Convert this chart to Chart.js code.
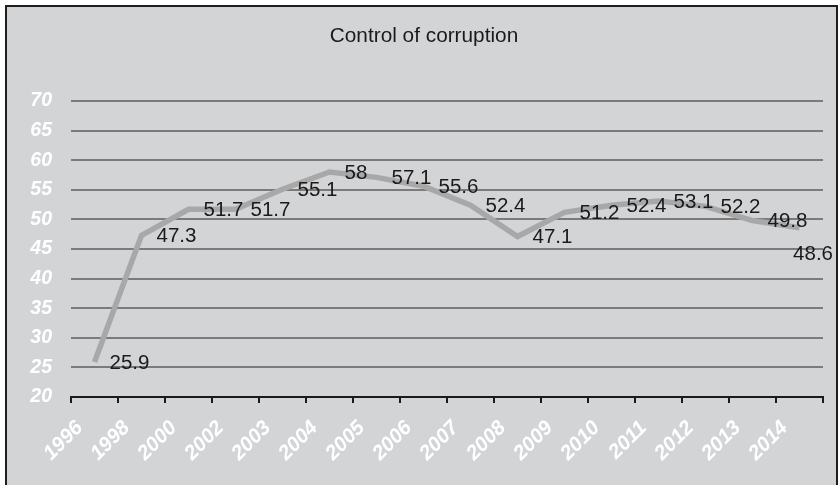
<!DOCTYPE html>
<html>
<head>
<meta charset="utf-8">
<script src="https://cdn.jsdelivr.net/npm/chart.js@4.4.1/dist/chart.umd.min.js"></script>
<style>
    html, body { margin: 0; padding: 0; background: #ffffff; }
    #wrap { width: 840px; height: 485px; position: relative; }
</style>
</head>
<body>
<div id="wrap"><canvas id="corruptionCanvas" width="840" height="485"></canvas></div>
<script>
const chartTitle = 'Control of corruption';
const years = ['1996', '1998', '2000', '2002', '2003', '2004', '2005', '2006',
    '2007', '2008', '2009', '2010', '2011', '2012', '2013', '2014'];
const scores = [25.9, 47.3, 51.7, 51.7, 55.1, 58, 57.1, 55.6,
    52.4, 47.1, 51.2, 52.4, 53.1, 52.2, 49.8, 48.6];
const yTicks = [20, 25, 30, 35, 40, 45, 50, 55, 60, 65, 70];

const FONT = "'Liberation Sans', Arial, sans-serif";

// grey panel, frame and title
const panelPlugin = {
    id: 'panel',
    beforeDraw(chart) {
        const ctx = chart.ctx;
        ctx.save();
        ctx.fillStyle = '#ffffff';
        ctx.fillRect(0, 0, chart.width, chart.height);
        ctx.fillStyle = '#d3d4d6';
        ctx.fillRect(6, 6, 831, 500);
        ctx.strokeStyle = '#1e1e1e';
        ctx.lineWidth = 2;
        ctx.strokeRect(6, 6, 831, 500);
        ctx.fillStyle = '#1a1a1a';
        ctx.font = '20.8px ' + FONT;
        ctx.textAlign = 'center';
        ctx.textBaseline = 'middle';
        ctx.fillText(chartTitle, 424, 36);
        ctx.restore();
    }
};

// value labels to the right of each point
const valueLabels = {
    id: 'valueLabels',
    afterDatasetsDraw(chart) {
        const ctx = chart.ctx;
        const meta = chart.getDatasetMeta(0);
        ctx.save();
        ctx.font = '20.5px ' + FONT;
        ctx.fillStyle = '#1a1a1a';
        ctx.textAlign = 'left';
        ctx.textBaseline = 'middle';
        meta.data.forEach((pt, i) => {
            const text = String(scores[i]);
            const w = ctx.measureText(text).width;
            let x = pt.x + 15;
            let y = pt.y + 1;
            if (x + w > 833) {
                x = 833 - w;
                y = pt.y + 27;
            }
            ctx.fillText(text, x, y);
        });
        ctx.restore();
    }
};

new Chart(document.getElementById('corruptionCanvas').getContext('2d'), {
    type: 'line',
    data: {
        labels: years,
        datasets: [{
            data: scores,
            borderColor: '#a8a8a9',
            borderWidth: 5.5,
            borderCapStyle: 'butt',
            borderJoinStyle: 'miter',
            pointRadius: 0,
            tension: 0,
            fill: false
        }]
    },
    options: {
        responsive: false,
        animation: false,
        layout: { padding: { left: 0, right: 17, top: 101, bottom: 0 } },
        plugins: {
            legend: { display: false },
            title: { display: false },
            tooltip: { enabled: false }
        },
        scales: {
            x: {
                offset: true,
                afterFit(scale) { scale.height = 88; },
                grid: {
                    offset: true,
                    drawOnChartArea: false,
                    drawTicks: true,
                    tickLength: 6,
                    color: '#1a1a1a',
                    lineWidth: 2
                },
                border: { display: true, color: '#1a1a1a', width: 2 },
                ticks: {
                    minRotation: 45,
                    maxRotation: 45,
                    autoSkip: false,
                    labelOffset: -15,
                    padding: 13,
                    color: '#ffffff',
                    font: { family: FONT, size: 20.5, weight: 'bold', style: 'italic' }
                }
            },
            y: {
                min: 20,
                max: 70,
                afterFit(scale) { scale.width = 71; },
                afterBuildTicks(scale) { scale.ticks = yTicks.map(v => ({ value: v })); },
                grid: {
                    drawTicks: false,
                    color: '#7b7b7c',
                    lineWidth: 2
                },
                border: { display: false },
                ticks: {
                    padding: 19,
                    color: '#ffffff',
                    font: { family: FONT, size: 19.5, weight: 'bold', style: 'italic' }
                }
            }
        }
    },
    plugins: [panelPlugin, valueLabels]
});
</script>
</body>
</html>
